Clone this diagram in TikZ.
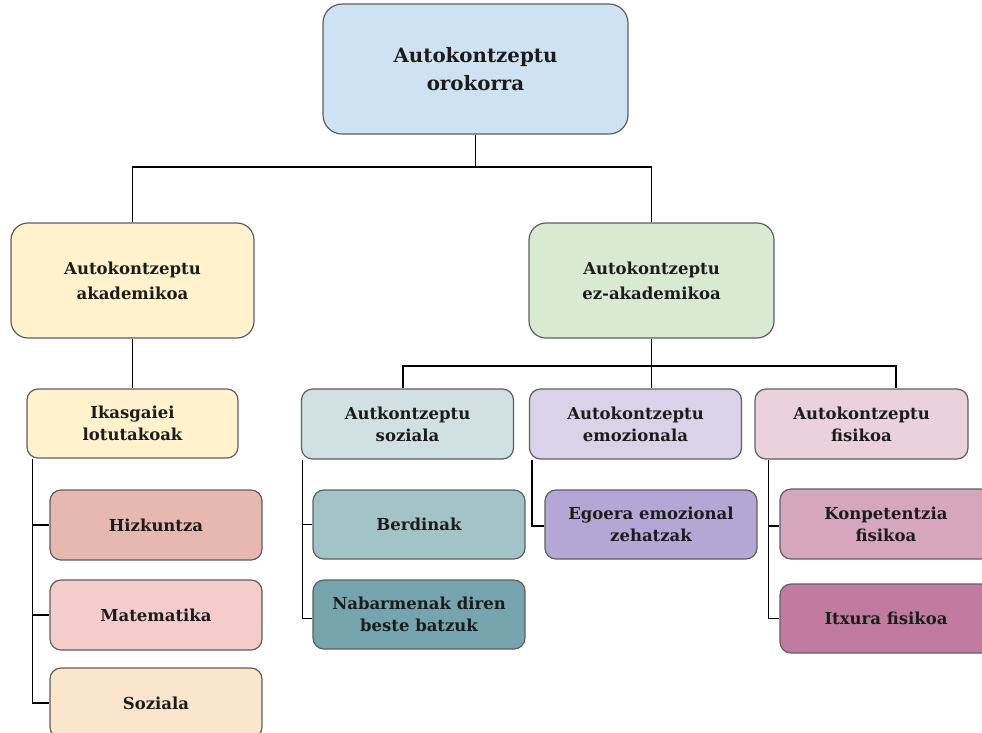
\documentclass[tikz,border=0pt]{standalone}
\usepackage{fontspec}
\setmainfont{DejaVu Serif}
\definecolor{cTop}{HTML}{CFE2F3}
\definecolor{cCream}{HTML}{FFF2CC}
\definecolor{cGreen}{HTML}{D9EAD3}
\definecolor{cHiz}{HTML}{E6B8AF}
\definecolor{cMat}{HTML}{F4CCCC}
\definecolor{cSoz}{HTML}{FCE5CD}
\definecolor{cSozial}{HTML}{D0E0E3}
\definecolor{cBerd}{HTML}{A2C4C9}
\definecolor{cNab}{HTML}{76A5AF}
\definecolor{cEmoz}{HTML}{D9D2E9}
\definecolor{cEgo}{HTML}{B4A7D6}
\definecolor{cFis}{HTML}{EAD1DC}
\definecolor{cKonp}{HTML}{D5A6BD}
\definecolor{cItx}{HTML}{C27BA0}
\definecolor{cBorder}{HTML}{5E5E5E}
\definecolor{cText}{HTML}{1C1C1C}
\tikzset{
  box/.style={draw=cBorder, line width=1.2pt, align=center, text=cText, inner sep=0pt},
  bigbox/.style={box, rounded corners=19pt, font=\bfseries\fontsize{19.8}{28}\selectfont},
  midbox/.style={box, rounded corners=17pt, font=\bfseries\fontsize{16.5}{25}\selectfont},
  smallbox/.style={box, rounded corners=11pt, font=\bfseries\fontsize{16.5}{22}\selectfont},
  conn/.style={draw=black, line width=1.5pt}
}
\begin{document}
\begin{tikzpicture}[x=1pt,y=-1pt]
\useasboundingbox (0,0) rectangle (982,732);
\clip (0,0) rectangle (982,732);
% level 0
\node[bigbox, fill=cTop, minimum width=305pt, minimum height=130pt] (top) at (475.5,69) {Autokontzeptu\\orokorra};
% level 1
\node[midbox, fill=cCream, minimum width=243pt, minimum height=115pt] (acad) at (132.5,280.5) {Autokontzeptu\\akademikoa};
\node[midbox, fill=cGreen, minimum width=245pt, minimum height=115pt] (nonacad) at (651.5,280.5) {Autokontzeptu\\ez-akademikoa};
% level 2
\node[smallbox, fill=cCream, minimum width=211pt, minimum height=69pt] (ikas) at (132.5,423.5) {Ikasgaiei\\lotutakoak};
\node[smallbox, fill=cSozial, minimum width=212pt, minimum height=70pt] (sozial) at (407.5,424) {Autkontzeptu\\soziala};
\node[smallbox, fill=cEmoz, minimum width=212pt, minimum height=70pt] (emoz) at (635.5,424) {Autokontzeptu\\emozionala};
\node[smallbox, fill=cFis, minimum width=213pt, minimum height=70pt] (fis) at (861.5,424) {Autokontzeptu\\fisikoa};
% level 3
\node[smallbox, fill=cHiz, minimum width=212pt, minimum height=70pt] (hiz) at (156,525) {Hizkuntza};
\node[smallbox, fill=cMat, minimum width=212pt, minimum height=70pt] (mat) at (156,615) {Matematika};
\node[smallbox, fill=cSoz, minimum width=212pt, minimum height=70pt] (soz) at (156,703) {Soziala};
\node[smallbox, fill=cBerd, minimum width=212pt, minimum height=69pt] (berd) at (419,524.5) {Berdinak};
\node[smallbox, fill=cNab, minimum width=212pt, minimum height=69pt] (nab) at (419,614.5) {Nabarmenak diren\\beste batzuk};
\node[smallbox, fill=cEgo, minimum width=212pt, minimum height=69pt] (ego) at (651,524.5) {Egoera emozional\\zehatzak};
\node[smallbox, fill=cKonp, minimum width=212pt, minimum height=70pt] (konp) at (886,524) {Konpetentzia\\fisikoa};
\node[smallbox, fill=cItx, minimum width=212pt, minimum height=69pt] (itx) at (886,618.5) {Itxura fisikoa};
% connectors level 0-1
\coordinate (h1) at (477,167);
\draw[conn] (top.south) -- (top.south |- h1);
\draw[conn] (acad.north) |- (h1) -| (nonacad.north);
% level 1-2 left
\draw[conn] (acad.south) -- (ikas.north);
% level 1-2 right
\coordinate (h2l) at (403,366);
\coordinate (h2r) at (896,366);
\draw[conn] (nonacad.south) -- (nonacad.south |- emoz.north);
\draw[conn] (h2l |- sozial.north) -- (h2l) -- (h2r) -- (h2r |- fis.north);
% sub trees
\draw[conn] ([xshift=6pt]ikas.south west) |- (hiz.west);
\draw[conn] ([xshift=6pt]ikas.south west) |- (mat.west);
\draw[conn] ([xshift=6pt]ikas.south west) |- (soz.west);
\draw[conn] ([xshift=1.5pt]sozial.south west) |- (berd.west);
\draw[conn] ([xshift=1.5pt]sozial.south west) |- ([yshift=-4pt]nab.west);
\draw[conn] ([xshift=3pt]emoz.south west) |- ([yshift=-1.5pt]ego.west);
\draw[conn] ([xshift=14pt]fis.south west) |- ([yshift=-2pt]konp.west);
\draw[conn] ([xshift=14pt]fis.south west) |- (itx.west);
\end{tikzpicture}
\end{document}
